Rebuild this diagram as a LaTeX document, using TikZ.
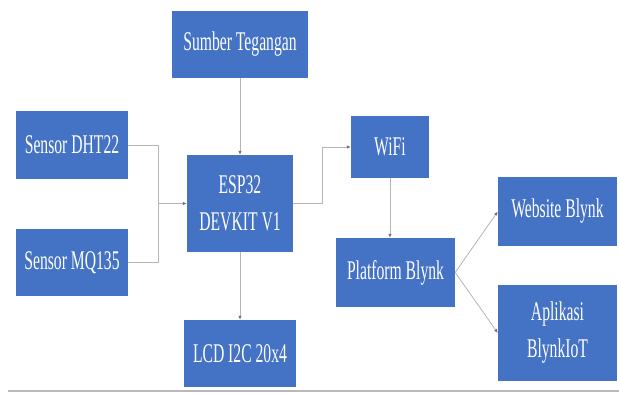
\documentclass[tikz,border=0pt]{standalone}
\usepackage{fontspec}
\setmainfont[FakeStretch=0.58]{Liberation Serif}
\usepackage{xcolor}
\usepackage{tikz}
\usetikzlibrary{arrows.meta, positioning, calc}
\definecolor{BoxBlue}{RGB}{68,114,196}
\definecolor{LineGray}{RGB}{180,180,186}
\definecolor{TipGray}{RGB}{110,112,130}
\tikzset{
  >=latex,
  % blocchi del diagramma
  block/.style={rectangle,fill=BoxBlue,text=white,align=center,inner sep=1,
    font=\fontsize{27}{37}\selectfont},
  % collegamenti
  connect/.style={line width=0.8,LineGray},
  connect arrow/.style={connect,-{Latex[length=4,width=3.5,color=TipGray]}}
}
\begin{document}
\begin{tikzpicture}[x=1pt,y=-1pt]
    \useasboundingbox (0,0) rectangle (619,392);
    \node[block,minimum width=136,minimum height=67] (sumber) at (240,44.5) {Sumber Tegangan};
    \node[block,minimum width=112,minimum height=68] (dht) at (72,145) {Sensor DHT22};
    \node[block,minimum width=112,minimum height=67] (mq) at (72,262.5) {Sensor MQ135};
    \node[block,minimum width=106,minimum height=97] (esp) at (240,203.5) {ESP32\\DEVKIT V1};
    \node[block,minimum width=112,minimum height=67] (lcd) at (240,353.5) {LCD I2C 20x4};
    \node[block,minimum width=78,minimum height=62] (wifi) at (390,147) {WiFi};
    \node[block,minimum width=119,minimum height=69] (platform) at (395.5,272.5) {Platform Blynk};
    \node[block,minimum width=119,minimum height=69] (web) at (557.5,211.5) {Website Blynk};
    \node[block,minimum width=119,minimum height=96] (app) at (557.5,333) {Aplikasi\\BlynkIoT};
    \coordinate (join) at (158,203.5);
    \coordinate (turn) at (322,203.5);
    \draw[connect arrow] (sumber.south)--(esp.north);
    \draw[connect] (dht.east) -| (join);
    \draw[connect] (mq.east) -| (join);
    \draw[connect arrow] (join)--(esp.west);
    \draw[connect] (esp.east)--(turn);
    \draw[connect arrow] (turn) |- (wifi.west);
    \draw[connect arrow] (wifi.south)--(wifi.south |- platform.north);
    \draw[connect arrow] (esp.south)--(lcd.north);
    \draw[connect arrow] (platform.east)--(web.west);
    \draw[connect arrow] (platform.east)--(app.west);
    \draw[gray!55,line width=2.5] (8,390.8)--(619,390.8);
  \end{tikzpicture}
\end{document}
